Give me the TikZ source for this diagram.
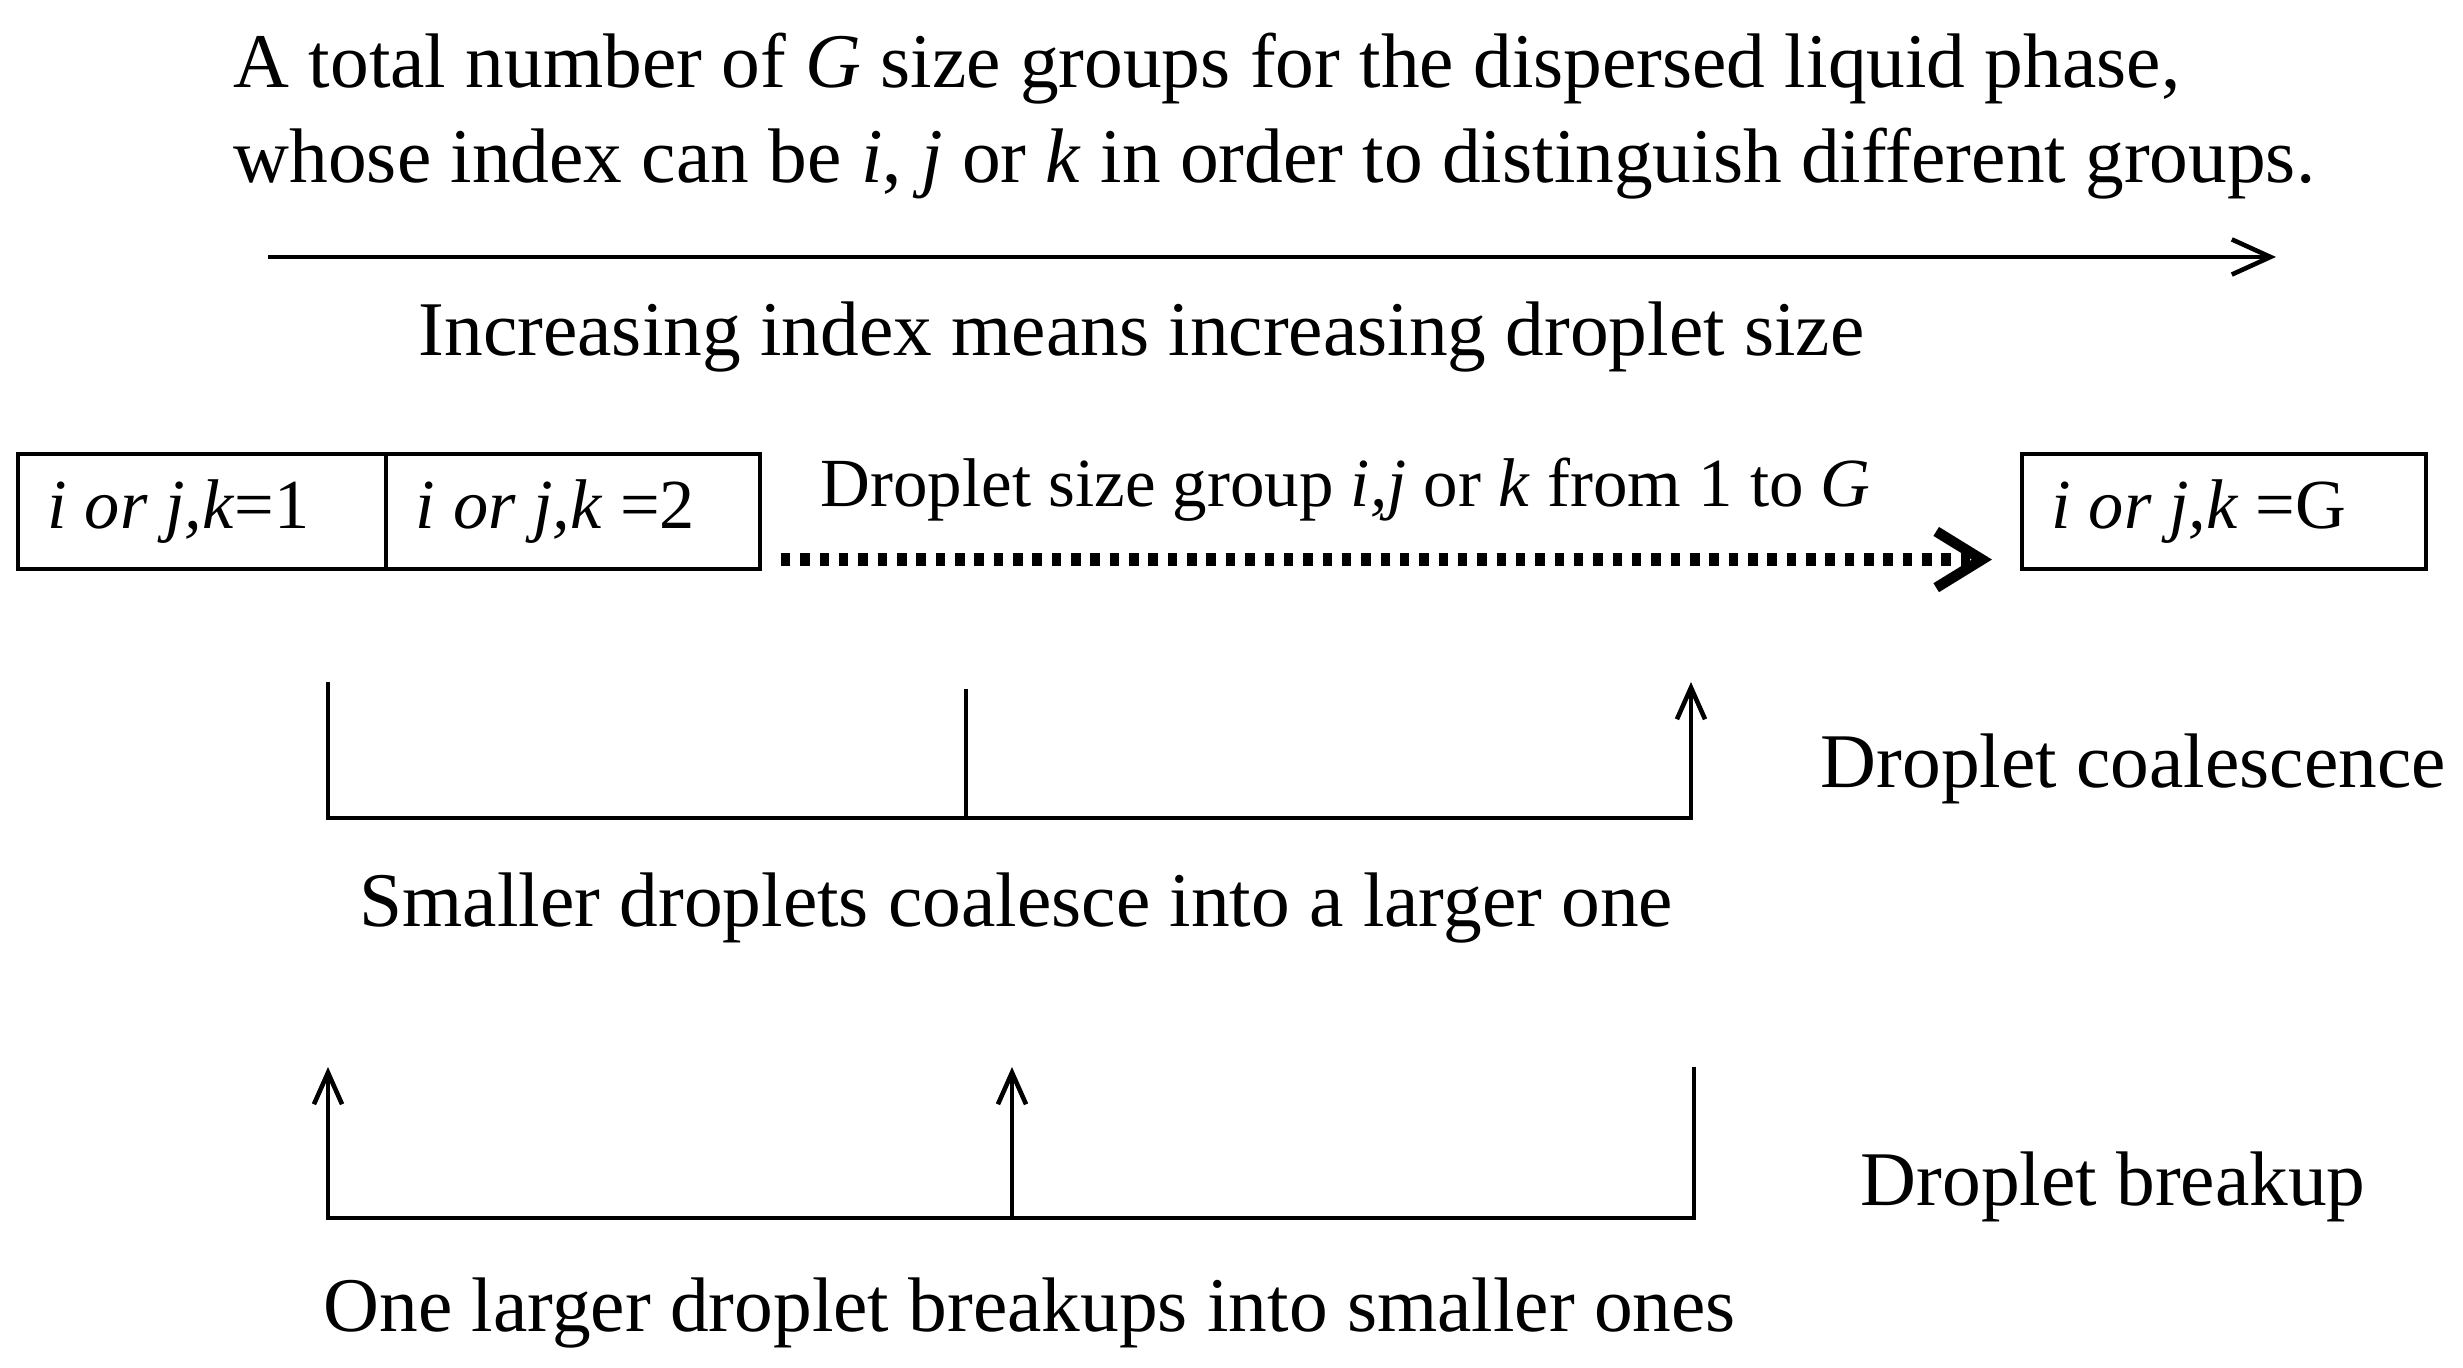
\documentclass[tikz,border=0pt]{standalone}
\usepackage{fontspec}
\setmainfont{Liberation Serif}
\usetikzlibrary{arrows.meta,positioning}

\tikzset{
	txt/.style={inner sep=0pt,anchor=base west,font=\fontsize{22}{27}\selectfont},
	grpbox/.style={draw,line width=1pt,minimum height=1.15cm,inner xsep=0.3cm,anchor=north west,font=\fontsize{20}{24}\selectfont},
	thinline/.style={line width=1.3pt},
	barb/.style={-{Straight Barb[length=9pt,width=8pt,line width=1.3pt]}}
}

\begin{document}
\begin{tikzpicture}[x=0.01cm,y=-0.01cm]
			\useasboundingbox (0,0) rectangle (2463,1368);

			% header text and index direction
			\node[txt] (title1) at (233,88) {A total number of \textit{G} size groups for the dispersed liquid phase,};
			\node[txt] (title2) at (233,183) {whose index can be \textit{i}, \textit{j} or \textit{k} in order to distinguish different groups.};
			\coordinate (idxs) at (268,257);
			\coordinate (idxe) at (2276,257);
			\draw[thinline,-{Straight Barb[length=11pt,width=10pt,line width=1.3pt]}] (idxs) -- (idxe);
			\node[txt] (idxlbl) at (418,356) {Increasing index means increasing droplet size};

			% size groups
			\node[grpbox] (grp1) at (16,452) {\makebox[3.08cm][l]{\textit{i or j,k}=1}};
			\node[grpbox,anchor=west] (grp2) at ([xshift=-1pt]grp1.east) {\makebox[3.14cm][l]{\textit{i or j,k} =2}};
			\node[grpbox] (grpG) at (2020,452) {\makebox[3.44cm][l]{\textit{i or j,k} =G}};
			\node[txt,font=\fontsize{19.6}{24}\selectfont] (grplbl) at (820,507) {Droplet size group \textit{i,j} or \textit{k} from 1 to \textit{G}};
			\draw[line width=3.7pt,dash pattern=on 2.7pt off 2.8pt,-{Straight Barb[length=13pt,width=16pt,line width=3pt]}]
				([xshift=0.19cm,yshift=0.11cm]grp2.south east) -- ([xshift=-0.28cm,yshift=0.11cm]grpG.south west);

			% coalescence
			\coordinate (ca) at (328,682);
			\coordinate (cb) at (966,689);
			\coordinate (cc) at (1691,682);
			\coordinate (cl) at (328,818);
			\coordinate (cr) at (1691,818);
			\draw[thinline,barb] (ca) -- (cl) -- (cr) -- (cc);
			\draw[thinline] (cb) -- (cb |- cl);
			\node[txt] (coallbl) at (1820,788) {Droplet coalescence};
			\node[txt] (coaltxt) at (359,927) {Smaller droplets coalesce into a larger one};

			% breakup
			\coordinate (ba) at (328,1067);
			\coordinate (bb) at (1012,1067);
			\coordinate (bc) at (1694,1067);
			\coordinate (bl) at (328,1218);
			\coordinate (br) at (1694,1218);
			\draw[thinline,barb] (bc) -- (br) -- (bl) -- (ba);
			\draw[thinline,barb] (bb |- bl) -- (bb);
			\node[txt] (brklbl) at (1860,1206) {Droplet breakup};
			\node[txt] (brktxt) at (323,1332) {One larger droplet breakups into smaller ones};
		\end{tikzpicture}
\end{document}
